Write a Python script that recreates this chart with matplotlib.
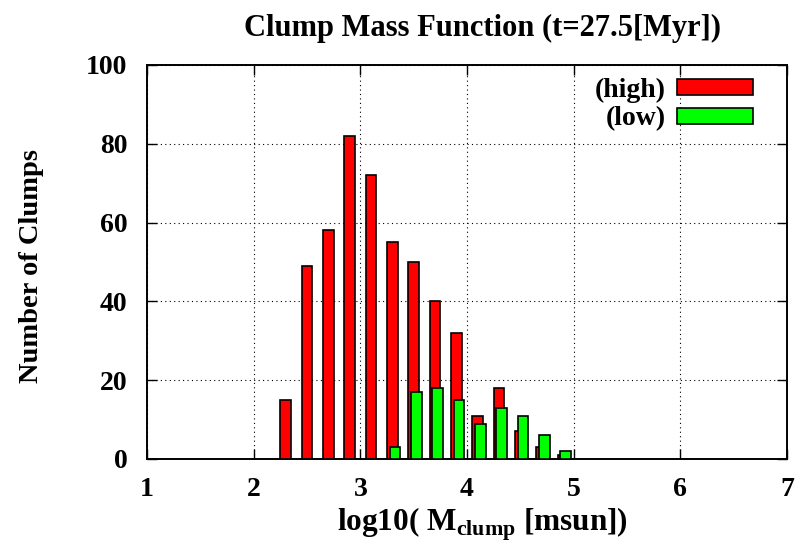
import matplotlib
matplotlib.use('Agg')
import matplotlib.pyplot as plt
import numpy as np

plt.rcParams['font.family'] = ['Liberation Serif', 'DejaVu Serif']
plt.rcParams['font.weight'] = 'bold'
plt.rcParams['mathtext.fontset'] = 'custom'
plt.rcParams['mathtext.rm'] = 'Liberation Serif:bold'
plt.rcParams['mathtext.bf'] = 'Liberation Serif:bold'

# bin centres of log10(M) and counts
bins = [2.3, 2.5, 2.7, 2.9, 3.1, 3.3, 3.5, 3.7, 3.9, 4.1, 4.3, 4.5, 4.7, 4.9]
high = [15, 49, 58, 82, 72, 55, 50, 40, 32, 11, 18, 7, 3, 1]
low = [0, 0, 0, 0, 0, 3, 17, 18, 15, 9, 13, 11, 6, 2]

fig = plt.figure(figsize=(8.0, 5.49), dpi=100)
ax = fig.add_axes([147 / 800, 1 - 459 / 549, 640 / 800, 394 / 549])

x = np.array(bins)
ax.bar(x, high, width=0.1, color='#ff0000', edgecolor='black', linewidth=1.2, label='(high)', zorder=3)
ax.bar(x + 0.025, low, width=0.1, color='#00ff00', edgecolor='black', linewidth=1.2, label='(low)', zorder=4)

ax.set_xlim(1, 7)
ax.set_ylim(0, 100)
ax.set_xticks([1, 2, 3, 4, 5, 6, 7])
ax.set_yticks([0, 20, 40, 60, 80, 100])
ax.grid(True, color='black', linestyle=(0, (1, 3)), linewidth=0.8, zorder=0)
ax.tick_params(direction='in', top=True, right=True, labelsize=20, length=7, width=1)
ax.tick_params(axis='y', pad=14)
ax.tick_params(axis='x', pad=13)
for s in ax.spines.values():
    s.set_linewidth(1.4)

fig.text(482 / 800, 1 - 28 / 549, 'Clump Mass Function (t=27.5[Myr])', fontsize=22,
         fontweight='bold', ha='center', va='center')
fig.text(482 / 800, 1 - 524 / 549, r'log10( M$_{\mathbf{clump}}$ [msun])', fontsize=22.5,
         fontweight='bold', ha='center', va='center')
fig.text(32 / 800, 1 - 266 / 549, 'Number of Clumps', fontsize=20.5, fontweight='bold',
         rotation=90, ha='center', va='center')

leg = ax.legend(loc='upper right', frameon=False, fontsize=20, markerfirst=False,
                bbox_to_anchor=((753 - 147) / 640, (459 - 78) / 394),
                borderaxespad=0, borderpad=0,
                handlelength=2.73, handleheight=0.5, labelspacing=0.12,
                handletextpad=0.4)

plt.savefig('out.png', dpi=100)
